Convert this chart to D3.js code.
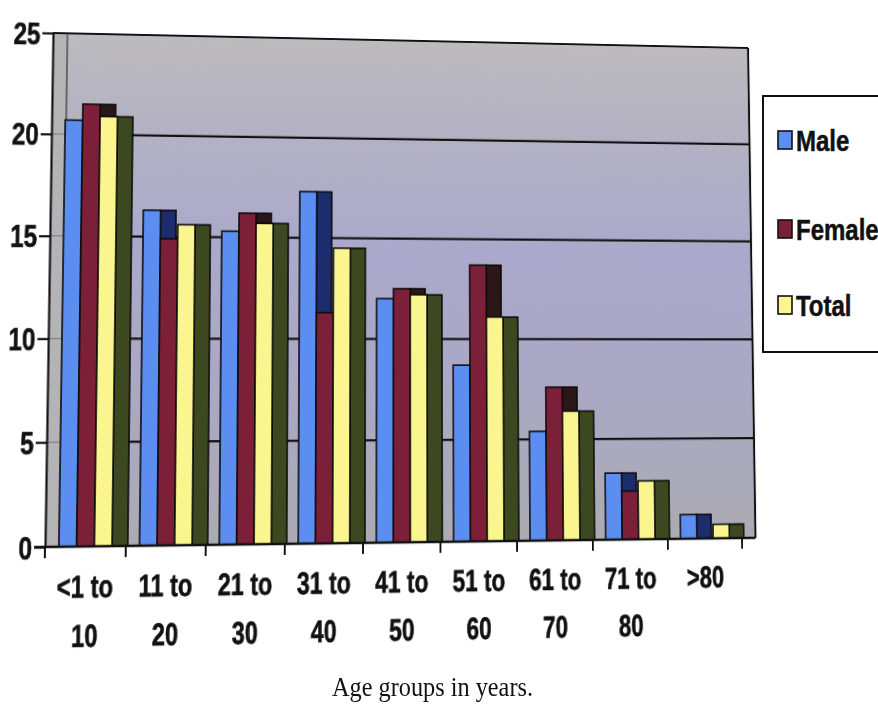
<!DOCTYPE html>
<html>
<head>
<meta charset="utf-8">
<script src="https://cdn.jsdelivr.net/npm/d3@7"></script>
<style>
  html, body { margin: 0; padding: 0; background: #ffffff; overflow: hidden; }
  #stage { position: relative; width: 878px; height: 706px; }
  #stage svg { position: absolute; left: 0; top: 0; }
  #chart { transform-origin: 0 0; }
</style>
</head>
<body>
<div id="stage"></div>
<script>
// Age-group distribution (%) by sex
const categories  = ["<1 to 10", "11 to 20", "21 to 30", "31 to 40", "41 to 50", "51 to 60", "61 to 70", "71 to 80", ">80"];
const labelTop    = ["<1 to", "11 to", "21 to", "31 to", "41 to", "51 to", "61 to", "71 to", ">80"];
const labelBottom = ["10", "20", "30", "40", "50", "60", "70", "80", ""];
const seriesNames = ["Male", "Female", "Total"];
const male   = [20.7, 16.3, 15.3, 17.3, 12.0, 8.7, 5.4, 3.3, 1.2];
const female = [21.5, 14.9, 16.2, 11.3, 12.5, 13.7, 7.6, 2.4, 0];
const total  = [20.9, 15.6, 15.7, 14.5, 12.2, 11.1, 6.4, 2.9, 0.7];
const yTicks = [0, 5, 10, 15, 20, 25];
const xTitle = "Age groups in years.";

const seriesValues = [male, female, total];
const frontColor = ["#5b8ef0", "#7c2039", "#faf58e"];
const sideColor  = ["#1d2c6c", "#2b1618", "#3c4820"];

const W = 878, H = 706;
const FONT = "'Liberation Sans', Arial, sans-serif";

// ---- flat layout of the 3-D column chart ----
const FX0 = 45, BAND = 82, DEPTH = 15;
const FX1 = FX0 + categories.length * BAND;
const FRONT = 18, SIDE = 16, OFFSET = 14;

const x  = d3.scaleBand().domain(categories).range([FX0, FX1]).padding(0);
const xs = d3.scaleBand().domain(seriesNames).range([OFFSET, OFFSET + 3 * FRONT]).padding(0);
const y  = d3.scaleLinear().domain([0, 25]).range([547, 33]);

const stage = d3.select("#stage");
const svg = stage.append("svg").attr("id", "chart").attr("width", W).attr("height", H);

const defs = svg.append("defs");
const grad = defs.append("linearGradient").attr("id", "wallFill")
  .attr("gradientUnits", "userSpaceOnUse")
  .attr("x1", 0).attr("y1", y(25)).attr("x2", 0).attr("y2", y(0));
[[0, "#bdbbbe"], [0.18, "#b4b2c2"], [0.42, "#aba9cb"], [0.68, "#aaa8c5"], [1, "#acabb3"]]
  .forEach(([o, c]) => grad.append("stop").attr("offset", o).attr("stop-color", c));

// back wall
svg.append("rect")
  .attr("x", FX0 + DEPTH).attr("y", y(25))
  .attr("width", FX1 - FX0).attr("height", y(0) - y(25))
  .attr("fill", "url(#wallFill)");

// side wall
svg.append("rect")
  .attr("x", FX0).attr("y", y(25))
  .attr("width", DEPTH).attr("height", y(0) - y(25))
  .attr("fill", "#b4b4b6");

// gridlines on side wall and back wall
const grid = svg.append("g");
yTicks.filter(v => v > 0 && v < 25).forEach(v => {
  grid.append("line")
    .attr("x1", FX0).attr("x2", FX0 + DEPTH).attr("y1", y(v)).attr("y2", y(v))
    .attr("stroke", "#77777c").attr("stroke-width", 1);
  grid.append("line")
    .attr("x1", FX0 + DEPTH).attr("x2", FX1 + DEPTH).attr("y1", y(v)).attr("y2", y(v))
    .attr("stroke", "#111").attr("stroke-width", 2.2);
});

// wall borders
svg.append("line").attr("x1", FX0).attr("x2", FX1 + DEPTH).attr("y1", y(25)).attr("y2", y(25))
  .attr("stroke", "#111").attr("stroke-width", 2.2);
svg.append("line").attr("x1", FX1 + DEPTH).attr("x2", FX1 + DEPTH).attr("y1", y(25)).attr("y2", y(0))
  .attr("stroke", "#111").attr("stroke-width", 2.2);
svg.append("line").attr("x1", FX0 + DEPTH).attr("x2", FX0 + DEPTH).attr("y1", y(25)).attr("y2", y(0))
  .attr("stroke", "#444").attr("stroke-width", 1.4);

// bars: each column has a front face and a darker side face
const bars = svg.append("g").attr("stroke", "#0b0b0b").attr("stroke-width", 1.6);
categories.forEach((cat, i) => {
  seriesNames.forEach((s, k) => {
    const v = seriesValues[k][i];
    if (!(v > 0)) return;
    const bx = x(cat) + xs(s);
    const top = y(v), h = y(0) - y(v);
    bars.append("rect").attr("class", "side")
      .attr("x", bx + FRONT).attr("y", top).attr("width", SIDE).attr("height", h)
      .attr("fill", sideColor[k]);
    bars.append("rect").attr("class", "front")
      .attr("x", bx).attr("y", top).attr("width", FRONT).attr("height", h)
      .attr("fill", frontColor[k]);
  });
});

// y axis
const yAxis = svg.append("g").attr("transform", `translate(${FX0},0)`)
  .call(d3.axisLeft(y).tickValues(yTicks).tickSize(11).tickSizeOuter(0).tickPadding(3));
yAxis.select(".domain").attr("stroke", "#111").attr("stroke-width", 2.2);
yAxis.selectAll(".tick line").attr("stroke", "#111").attr("stroke-width", 2.2);
yAxis.selectAll(".tick text")
  .attr("x", null).attr("dy", null)
  .attr("transform", "translate(-13,11) scale(0.8,1)")
  .attr("font-family", FONT).attr("font-weight", "bold").attr("font-size", 31)
  .attr("fill", "#111").attr("stroke", "#111").attr("stroke-width", 0.6)
  .attr("text-anchor", "end");

// x axis: floor edge, boundary ticks and two-line labels
const xAxis = svg.append("g");
xAxis.append("line").attr("x1", FX0 - 11).attr("x2", FX1 + DEPTH).attr("y1", y(0)).attr("y2", y(0))
  .attr("stroke", "#111").attr("stroke-width", 2.6);
const bounds = categories.map(c => x(c)).concat([x.range()[1]]);
xAxis.selectAll("line.tick").data(bounds).join("line").attr("class", "tick")
  .attr("x1", d => d).attr("x2", d => d).attr("y1", y(0)).attr("y2", y(0) + 11)
  .attr("stroke", "#111").attr("stroke-width", 2);
const lab = xAxis.selectAll("g.lab").data(categories).join("g").attr("class", "lab")
  .attr("transform", d => `translate(${x(d) + x.bandwidth() / 2},0)`);
[[labelTop, 597], [labelBottom, 645]].forEach(([lines, base]) => {
  lab.append("text")
    .attr("transform", `translate(0,${base}) scale(0.78,1)`)
    .attr("text-anchor", "middle").attr("font-family", FONT).attr("font-weight", "bold")
    .attr("font-size", 31).attr("fill", "#111").attr("stroke", "#111").attr("stroke-width", 0.6)
    .text((d, i) => lines[i]);
});

// ---- slight perspective of the chart plane (projective map) ----
function solve(A, b) {
  const n = b.length;
  const M = A.map((r, i) => r.concat([b[i]]));
  for (let c = 0; c < n; c++) {
    let p = c;
    for (let r = c + 1; r < n; r++) if (Math.abs(M[r][c]) > Math.abs(M[p][c])) p = r;
    [M[c], M[p]] = [M[p], M[c]];
    for (let r = 0; r < n; r++) {
      if (r === c) continue;
      const f = M[r][c] / M[c][c];
      for (let k = c; k <= n; k++) M[r][k] -= f * M[c][k];
    }
  }
  return M.map((r, i) => r[n] / r[i]);
}
function homography(src, dst) {
  const A = [], b = [];
  src.forEach(([sx, sy], i) => {
    const [u, v] = dst[i];
    A.push([sx, sy, 1, 0, 0, 0, -u * sx, -u * sy]); b.push(u);
    A.push([0, 0, 0, sx, sy, 1, -v * sx, -v * sy]); b.push(v);
  });
  return solve(A, b);
}
const h = homography(
  [[FX0, y(0)], [FX0, y(25)], [FX1, y(0)], [FX1 + DEPTH, y(25)]],
  [[45, 547], [53, 33], [742, 538], [748, 48]]
);
svg.style("transform",
  `matrix3d(${h[0]},${h[3]},0,${h[6]},${h[1]},${h[4]},0,${h[7]},0,0,1,0,${h[2]},${h[5]},0,1)`);

// ---- legend and axis title ----
const over = stage.append("svg").attr("width", W).attr("height", H);
const legend = over.append("g");
legend.append("rect").attr("x", 763).attr("y", 96).attr("width", 130).attr("height", 256)
  .attr("fill", "#ffffff").attr("stroke", "#111").attr("stroke-width", 2);
const legendY = [140, 229, 305];
seriesNames.forEach((s, k) => {
  legend.append("rect").attr("x", 778).attr("y", legendY[k] - 9).attr("width", 14).attr("height", 18)
    .attr("fill", frontColor[k]).attr("stroke", "#111").attr("stroke-width", 1.6);
  legend.append("text")
    .attr("transform", `translate(796,${legendY[k] + 11}) scale(0.8,1)`)
    .attr("font-family", FONT).attr("font-weight", "bold").attr("font-size", 30)
    .attr("fill", "#111").attr("stroke", "#111").attr("stroke-width", 0.5)
    .text(s);
});
over.append("text")
  .attr("x", 332).attr("y", 696)
  .attr("font-family", "'Liberation Serif', 'Times New Roman', serif")
  .attr("font-size", 28).attr("fill", "#111")
  .attr("textLength", 201).attr("lengthAdjust", "spacingAndGlyphs")
  .text(xTitle);
</script>
</body>
</html>
